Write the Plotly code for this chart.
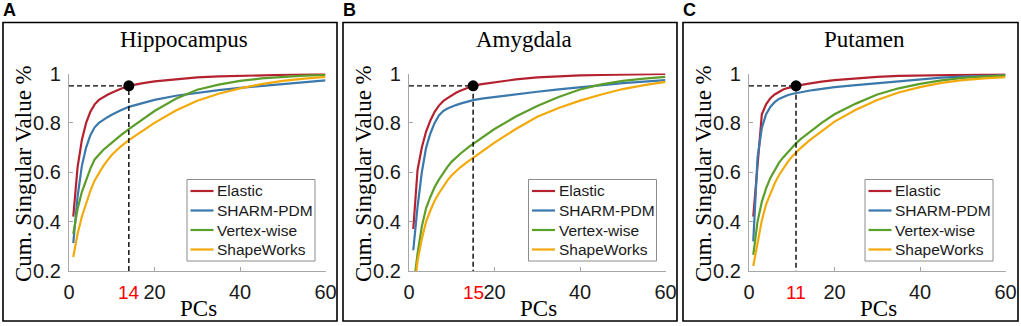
import plotly.graph_objects as go

# ---------------- data ----------------
pcs = [1, 2, 3, 4, 5, 6, 7, 8, 9, 10, 11, 12, 14, 15, 17, 20, 25, 30, 35, 40, 45, 50, 55, 60]

regions = ["Hippocampus", "Amygdala", "Putamen"]
panel_letters = ["A", "B", "C"]
methods = ["Elastic", "SHARM-PDM", "Vertex-wise", "ShapeWorks"]

hip_elastic = [0.42, 0.62, 0.73, 0.80, 0.845, 0.875, 0.893, 0.905, 0.914, 0.922, 0.93, 0.937, 0.95, 0.954, 0.96, 0.968, 0.977, 0.984, 0.988, 0.991, 0.994, 0.996, 0.997, 0.998]
hip_sharm = [0.313, 0.50, 0.625, 0.70, 0.75, 0.782, 0.80, 0.813, 0.823, 0.833, 0.842, 0.85, 0.865, 0.87, 0.88, 0.893, 0.91, 0.922, 0.933, 0.942, 0.95, 0.958, 0.965, 0.972]
hip_vertex = [0.35, 0.45, 0.52, 0.57, 0.615, 0.652, 0.672, 0.69, 0.705, 0.72, 0.734, 0.748, 0.775, 0.787, 0.812, 0.848, 0.898, 0.934, 0.955, 0.97, 0.98, 0.987, 0.991, 0.994]
hip_shapeworks = [0.257, 0.35, 0.42, 0.475, 0.525, 0.567, 0.598, 0.625, 0.648, 0.67, 0.687, 0.703, 0.73, 0.742, 0.765, 0.80, 0.85, 0.89, 0.918, 0.94, 0.957, 0.97, 0.979, 0.986]

amy_elastic = [0.37, 0.61, 0.70, 0.765, 0.81, 0.845, 0.87, 0.888, 0.90, 0.912, 0.922, 0.93, 0.945, 0.95, 0.957, 0.965, 0.976, 0.984, 0.989, 0.992, 0.994, 0.996, 0.997, 0.998]
amy_sharm = [0.284, 0.46, 0.60, 0.70, 0.757, 0.80, 0.83, 0.848, 0.858, 0.866, 0.872, 0.878, 0.889, 0.892, 0.898, 0.905, 0.916, 0.926, 0.936, 0.945, 0.953, 0.961, 0.967, 0.973]
amy_vertex = [0.13, 0.27, 0.38, 0.455, 0.50, 0.54, 0.57, 0.598, 0.622, 0.643, 0.66, 0.675, 0.703, 0.715, 0.74, 0.775, 0.826, 0.868, 0.905, 0.935, 0.956, 0.97, 0.979, 0.986]
amy_shapeworks = [0.09, 0.24, 0.33, 0.40, 0.445, 0.485, 0.515, 0.543, 0.567, 0.588, 0.605, 0.62, 0.646, 0.658, 0.683, 0.72, 0.775, 0.825, 0.86, 0.89, 0.915, 0.937, 0.953, 0.966]

put_elastic = [0.42, 0.63, 0.835, 0.875, 0.90, 0.915, 0.926, 0.935, 0.941, 0.946, 0.95, 0.953, 0.959, 0.962, 0.967, 0.973, 0.981, 0.986, 0.99, 0.992, 0.994, 0.995, 0.996, 0.997]
put_sharm = [0.32, 0.66, 0.78, 0.835, 0.865, 0.884, 0.897, 0.906, 0.912, 0.917, 0.921, 0.924, 0.93, 0.933, 0.938, 0.945, 0.953, 0.961, 0.969, 0.977, 0.983, 0.987, 0.99, 0.992]
put_vertex = [0.265, 0.40, 0.48, 0.535, 0.577, 0.61, 0.638, 0.66, 0.68, 0.70, 0.717, 0.733, 0.76, 0.773, 0.80, 0.835, 0.878, 0.915, 0.94, 0.958, 0.972, 0.982, 0.988, 0.993]
put_shapeworks = [0.22, 0.32, 0.405, 0.47, 0.515, 0.555, 0.588, 0.615, 0.64, 0.662, 0.68, 0.697, 0.727, 0.74, 0.768, 0.805, 0.853, 0.893, 0.923, 0.945, 0.962, 0.973, 0.98, 0.985]

series_by_region = [
    [hip_elastic, hip_sharm, hip_vertex, hip_shapeworks],
    [amy_elastic, amy_sharm, amy_vertex, amy_shapeworks],
    [put_elastic, put_sharm, put_vertex, put_shapeworks],
]

knee_pc = [14, 15, 11]          # PCs needed to reach 95% (Elastic)
knee_labels = ["14", "15", "11"]
knee_value = 0.95

x_ticks = [0, 20, 40, 60]
y_ticks = [0.2, 0.4, 0.6, 0.8, 1.0]
y_ticktext = ["0.2", "0.4", "0.6", "0.8", "1"]

# ---------------- styling ----------------
W, H = 1021, 326
colors = ["#B5222F", "#3B78AC", "#5C9E2A", "#F2A90A"]
axis_gray = "#A6A6A6"
serif = "Liberation Serif, Times New Roman, serif"
sans = "Liberation Sans, Arial, sans-serif"

# pixel geometry of each panel
plot_left = [69, 409, 749]
plot_width = 256.5
plot_top, plot_bottom = 73.5, 271
box_left = [3, 343, 683]
box_right = [337, 677, 1018]
box_top, box_bottom = 22.5, 321
legend_left = [187, 528.5, 865]
legend_top = 179.5
legend_w, legend_h = 128, 81.5
legend_row = 19.5


def px(x):
    return x / W


def py(y):
    return 1 - y / H


fig = go.Figure()

for i in range(3):
    xa = "x" if i == 0 else f"x{i + 1}"
    ya = "y" if i == 0 else f"y{i + 1}"
    for m, name in enumerate(methods):
        fig.add_trace(go.Scatter(
            x=pcs, y=series_by_region[i][m], mode="lines", name=name,
            line=dict(color=colors[m], width=2.2),
            xaxis=xa, yaxis=ya, showlegend=False,
        ))
    # dashed guide lines to the 95% point
    fig.add_trace(go.Scatter(
        x=[0, knee_pc[i], knee_pc[i]], y=[knee_value, knee_value, y_ticks[0]],
        mode="lines", line=dict(color="black", width=1.4, dash="5px,3px"),
        showlegend=False, xaxis=xa, yaxis=ya, hoverinfo="skip",
    ))
    fig.add_trace(go.Scatter(
        x=[knee_pc[i]], y=[knee_value], mode="markers",
        marker=dict(color="black", size=11),
        showlegend=False, xaxis=xa, yaxis=ya, cliponaxis=False,
    ))

layout = dict(
    width=W, height=H,
    margin=dict(l=0, r=0, t=0, b=0, pad=0, autoexpand=False),
    paper_bgcolor="white", plot_bgcolor="white", showlegend=False,
    annotations=[], shapes=[],
)


def ann(text, x, y, size, family, color="black", xref="paper", angle=0, xanchor="center"):
    layout["annotations"].append(dict(
        text=text, xref=xref, yref="paper", x=x, y=y, showarrow=False,
        xanchor=xanchor, yanchor="middle", textangle=angle,
        font=dict(family=family, size=size, color=color),
    ))


for i in range(3):
    sfx = "" if i == 0 else str(i + 1)
    layout["xaxis" + sfx] = dict(
        domain=[px(plot_left[i]), px(plot_left[i] + plot_width)],
        range=[0, 60], tickvals=x_ticks, ticks="inside", ticklen=4,
        tickcolor=axis_gray, showline=True, linecolor=axis_gray, linewidth=1.2,
        showgrid=False, zeroline=False, anchor="y" + sfx, automargin=False,
        tickfont=dict(family=sans, size=20, color="#1a1a1a"),
        ticklabelstandoff=3,
    )
    layout["yaxis" + sfx] = dict(
        domain=[py(plot_bottom), py(plot_top)],
        range=[0.2, 1.0], tickvals=y_ticks, ticktext=y_ticktext,
        ticks="inside", ticklen=4, tickcolor=axis_gray,
        showline=True, linecolor=axis_gray, linewidth=1.2,
        showgrid=False, zeroline=False, anchor="x" + sfx, automargin=False,
        tickfont=dict(family=sans, size=20, color="#1a1a1a"),
        ticklabelstandoff=3,
    )
    # panel frame
    layout["shapes"].append(dict(
        type="rect", xref="paper", yref="paper",
        x0=px(box_left[i]), x1=px(box_right[i]), y0=py(box_bottom), y1=py(box_top),
        line=dict(color="black", width=1.6),
    ))
    # legend (box, line samples, labels)
    L = legend_left[i]
    layout["shapes"].append(dict(
        type="rect", xref="paper", yref="paper",
        x0=px(L), x1=px(L + legend_w), y0=py(legend_top + legend_h), y1=py(legend_top),
        line=dict(color="#8c8c8c", width=1), fillcolor="white", layer="above",
    ))
    for m, name in enumerate(methods):
        yc = legend_top + 11.5 + legend_row * m
        layout["shapes"].append(dict(
            type="line", xref="paper", yref="paper",
            x0=px(L + 3.5), x1=px(L + 26.5), y0=py(yc), y1=py(yc),
            line=dict(color=colors[m], width=2.2), layer="above",
        ))
        ann(name, px(L + 28), py(yc), 15.5, sans, "#1a1a1a", xanchor="left")

    cx = plot_left[i] + plot_width / 2
    ann(f"<b>{panel_letters[i]}</b>", px(box_left[i] + 6), py(10), 18, sans)
    ann(regions[i], px(cx - 13), py(40), 23, serif)
    ann("PCs", px(cx + 1), py(308), 23, serif)
    ann("Cum. Singular Value %", px(box_left[i] + 20.5), py(173.5), 23, serif, angle=-90)
    ann(knee_labels[i], knee_pc[i], py(292), 19, sans, "#FF0000", xref="x" + sfx)

fig.update_layout(**layout)
fig.write_html(
    "out.html",
    config={"displayModeBar": False},
    post_script="document.body.style.margin='0';document.body.style.overflow='hidden';",
)
